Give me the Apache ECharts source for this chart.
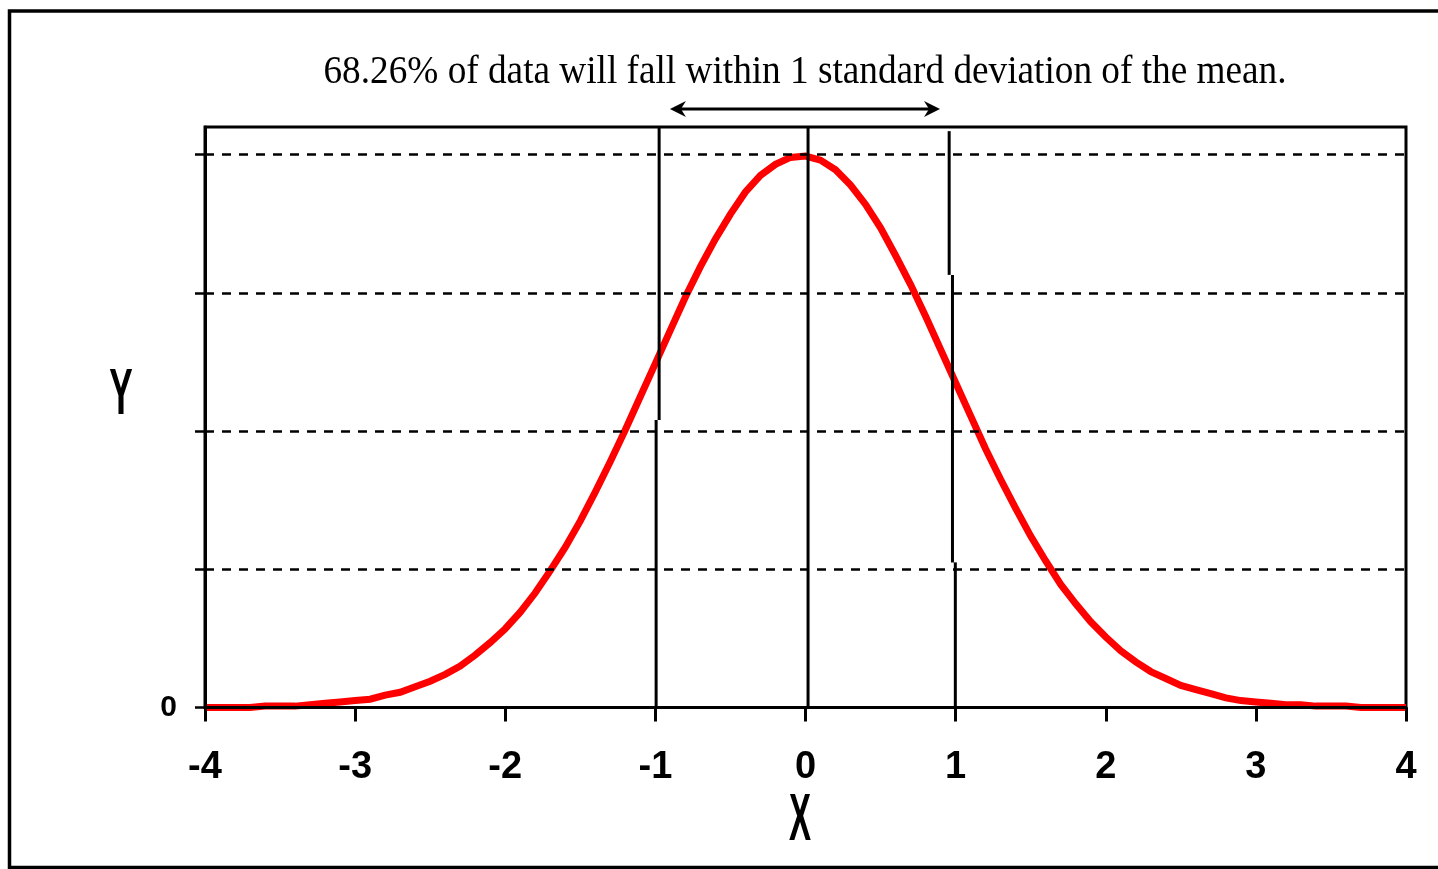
<!DOCTYPE html>
<html>
<head>
<meta charset="utf-8">
<script src="https://cdn.jsdelivr.net/npm/echarts@6/dist/echarts.min.js"></script>
<style>
  html, body { margin: 0; padding: 0; background: #fff; }
  #chart { width: 1438px; height: 869px; }
</style>
</head>
<body>
<div id="chart"></div>
<script>
// ---- data ----
const titleText = '68.26% of data will fall within 1 standard deviation of the mean.';
const xAxisName = 'X';
const yAxisName = 'Y';
const xTickValues = [-4, -3, -2, -1, 0, 1, 2, 3, 4];
const yTickValues = [0, 0.1, 0.2, 0.3, 0.4];
const yLabelValues = [0];

const xValues = [
  -4.0, -3.9, -3.8, -3.7, -3.6, -3.5, -3.4, -3.3, -3.2, -3.1,
  -3.0, -2.9, -2.8, -2.7, -2.6, -2.5, -2.4, -2.3, -2.2, -2.1,
  -2.0, -1.9, -1.8, -1.7, -1.6, -1.5, -1.4, -1.3, -1.2, -1.1,
  -1.0, -0.9, -0.8, -0.7, -0.6, -0.5, -0.4, -0.3, -0.2, -0.1,
   0.0,  0.1,  0.2,  0.3,  0.4,  0.5,  0.6,  0.7,  0.8,  0.9,
   1.0,  1.1,  1.2,  1.3,  1.4,  1.5,  1.6,  1.7,  1.8,  1.9,
   2.0,  2.1,  2.2,  2.3,  2.4,  2.5,  2.6,  2.7,  2.8,  2.9,
   3.0,  3.1,  3.2,  3.3,  3.4,  3.5,  3.6,  3.7,  3.8,  3.9,
   4.0
];
const yValues = [
  0.000, 0.000, 0.000, 0.000, 0.001, 0.001, 0.001, 0.002, 0.003, 0.004,
  0.005, 0.006, 0.009, 0.011, 0.015, 0.019, 0.024, 0.030, 0.038, 0.047,
  0.057, 0.069, 0.083, 0.099, 0.116, 0.135, 0.156, 0.178, 0.201, 0.225,
  0.249, 0.273, 0.297, 0.319, 0.339, 0.357, 0.373, 0.385, 0.393, 0.398,
  0.399, 0.396, 0.389, 0.378, 0.364, 0.347, 0.327, 0.306, 0.283, 0.259,
  0.235, 0.211, 0.187, 0.165, 0.144, 0.124, 0.106, 0.089, 0.075, 0.062,
  0.051, 0.041, 0.033, 0.026, 0.021, 0.016, 0.013, 0.010, 0.007, 0.005,
  0.004, 0.003, 0.002, 0.002, 0.001, 0.001, 0.001, 0.000, 0.000, 0.000,
  0.000
];

// vertical marker segments at -1, 0, +1 (x1, y1, x2, y2), hand-drawn in the original
const markerSegments = [
  [-0.975, 0.420, -0.975, 0.208],
  [-0.995, 0.208, -0.995, 0.000],
  [ 0.017, 0.420,  0.017, 0.000],
  [ 0.957, 0.417,  0.957, 0.313],
  [ 0.979, 0.313,  0.979, 0.105],
  [ 0.998, 0.105,  0.998, 0.000]
];
// double-headed arrow above the plot (x1, y1, x2, y2)
const arrowSpan = [[-0.903, 0.433, 0.896, 0.433]];

// ---- chart ----
const chart = echarts.init(document.getElementById('chart'), null, { renderer: 'canvas' });

function measure(text, font) {
  const c = document.createElement('canvas').getContext('2d');
  c.font = font;
  return c.measureText(text).width;
}
const titleFont = '40px "Liberation Serif"';
const titleScale = 963 / measure(titleText, titleFont);

const option = {
  backgroundColor: '#ffffff',
  animation: false,
  grid: {
    left: 205, right: 32, top: 127, bottom: 161.5,
    show: true, borderColor: '#000', borderWidth: 3, backgroundColor: 'transparent'
  },
  xAxis: {
    type: 'value', min: -4, max: 4, interval: 1, z: 5,
    axisLine: { show: true, onZero: false, lineStyle: { color: '#000', width: 3 } },
    axisTick: { show: true, length: 14, lineStyle: { color: '#000', width: 3 }, customValues: xTickValues },
    axisLabel: {
      customValues: xTickValues, margin: 41, color: '#000',
      fontFamily: 'Liberation Sans', fontWeight: 'bold', fontSize: 38
    },
    splitLine: { show: false }
  },
  yAxis: {
    type: 'value', min: 0, max: 0.42, interval: 0.1, z: 5,
    axisLine: { show: true, onZero: false, lineStyle: { color: '#000', width: 3 } },
    axisTick: { show: true, length: 10, lineStyle: { color: '#000', width: 2.5 }, customValues: yTickValues },
    axisLabel: {
      customValues: yLabelValues, margin: 28, color: '#000',
      fontFamily: 'Liberation Sans', fontWeight: 'bold', fontSize: 30,
      formatter: v => String(v)
    },
    splitLine: { show: true, lineStyle: { color: '#000', width: 2.5, type: [9, 8] } }
  },
  series: [
    {
      type: 'line', name: 'curve',
      data: xValues.map((x, i) => [x, yValues[i]]),
      symbol: 'none', smooth: false, z: 2,
      lineStyle: { color: '#ff0000', width: 7, join: 'miter' }
    },
    {
      type: 'custom', name: 'markers', z: 4,
      data: markerSegments,
      encode: { x: [0, 2], y: [1, 3] },
      renderItem: function (params, api) {
        const p1 = api.coord([api.value(0), api.value(1)]);
        const p2 = api.coord([api.value(2), api.value(3)]);
        return {
          type: 'line',
          shape: { x1: p1[0], y1: p1[1], x2: p2[0], y2: p2[1] },
          style: { stroke: '#000', lineWidth: 3 }
        };
      }
    },
    {
      type: 'custom', name: 'arrow', z: 4, clip: false,
      data: arrowSpan,
      encode: { x: [0, 2], y: [1, 3] },
      renderItem: function (params, api) {
        const p1 = api.coord([api.value(0), api.value(1)]);
        const p2 = api.coord([api.value(2), api.value(3)]);
        const L = 16, H = 8, N = 11;
        return {
          type: 'group',
          children: [
            { type: 'line', shape: { x1: p1[0] + 6, y1: p1[1], x2: p2[0] - 6, y2: p2[1] },
              style: { stroke: '#000', lineWidth: 3 } },
            { type: 'polygon', shape: { points: [[p1[0], p1[1]], [p1[0] + L, p1[1] - H], [p1[0] + N, p1[1]], [p1[0] + L, p1[1] + H]] },
              style: { fill: '#000' } },
            { type: 'polygon', shape: { points: [[p2[0], p2[1]], [p2[0] - L, p2[1] - H], [p2[0] - N, p2[1]], [p2[0] - L, p2[1] + H]] },
              style: { fill: '#000' } }
          ]
        };
      }
    }
  ],
  graphic: [
    { type: 'rect', silent: true, z: 0,
      shape: { x: 9.5, y: 11, width: 1440, height: 856.5 },
      style: { fill: 'none', stroke: '#000', lineWidth: 3.5 } },
    { type: 'text', x: 805, y: 72, scaleX: titleScale, z: 10,
      style: { text: titleText, font: titleFont, fill: '#000',
               align: 'center', verticalAlign: 'middle', textAlign: 'center', textVerticalAlign: 'middle' } },
    { type: 'text', x: 121, y: 396, scaleX: 0.55, z: 10,
      style: { text: yAxisName, font: 'bold 64px "Liberation Sans"', fill: '#000',
               align: 'center', verticalAlign: 'middle', textAlign: 'center', textVerticalAlign: 'middle' } },
    { type: 'text', x: 800, y: 822, scaleX: 0.5, z: 10,
      style: { text: xAxisName, font: 'bold 66px "Liberation Sans"', fill: '#000',
               align: 'center', verticalAlign: 'middle', textAlign: 'center', textVerticalAlign: 'middle' } }
  ]
};
chart.setOption(option);
</script>
</body>
</html>
